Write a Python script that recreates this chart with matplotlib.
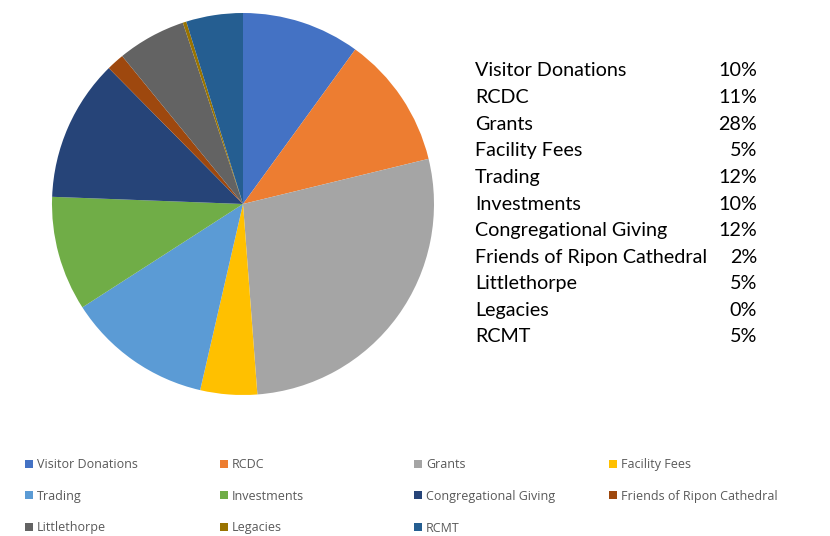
import matplotlib.pyplot as plt
from matplotlib.patches import Patch

# income sources (clockwise from 12 o'clock)
sources = ['Visitor Donations', 'RCDC', 'Grants', 'Facility Fees', 'Trading',
           'Investments', 'Congregational Giving', 'Friends of Ripon Cathedral',
           'Littlethorpe', 'Legacies', 'RCMT']
shares = [10.0, 11.2, 27.6, 4.8, 12.3, 9.7, 12.0, 1.5, 5.8, 0.3, 4.8]
table_pct = ['10%', '11%', '28%', '5%', '12%', '10%', '12%', '2%', '5%', '0%', '5%']
colors = ['#4472C4', '#ED7D31', '#A5A5A5', '#FFC000', '#5B9BD5', '#70AD47',
          '#264478', '#9E480E', '#636363', '#997300', '#255E91']

W, H = 830, 536
fig = plt.figure(figsize=(W / 100, H / 100), dpi=100)

# pie: centre ~(243, 204) px, radius ~191 px
cx, cy, r = 243, 204, 191
ax = fig.add_axes([(cx - r) / W, 1 - (cy + r) / H, 2 * r / W, 2 * r / H])
ax.pie(shares, colors=colors, startangle=90, counterclock=False,
       wedgeprops=dict(linewidth=0))
ax.set_xlim(-1, 1)
ax.set_ylim(-1, 1)
ax.set_aspect('equal')

# text table on the right
row0, step = 71, 26.6
for i, (name, pct) in enumerate(zip(sources, table_pct)):
    y = 1 - (row0 + i * step) / H
    fig.text(475 / W, y, name, ha='left', va='center', fontsize=14.2,
             family='Lato', color='black')
    fig.text(757 / W, y, pct, ha='right', va='center', fontsize=14.2,
             family='Lato', color='black')

# legend at the bottom, filled row-wise in 4 columns
col_x = [25, 220, 414, 609]
for c in range(4):
    idx = list(range(c, len(sources), 4))
    handles = [Patch(facecolor=colors[i], edgecolor='none') for i in idx]
    labels = [sources[i] for i in idx]
    fig.legend(handles, labels, loc='upper left',
               bbox_to_anchor=(col_x[c] / W, 1 - 458 / H),
               frameon=False, labelcolor='#595959',
               handlelength=0.6, handleheight=0.6, handletextpad=0.35,
               labelspacing=1.5, borderpad=0, borderaxespad=0,
               prop={'family': 'Open Sans', 'size': 9})

fig.savefig('out.png', dpi=100, facecolor='white')
